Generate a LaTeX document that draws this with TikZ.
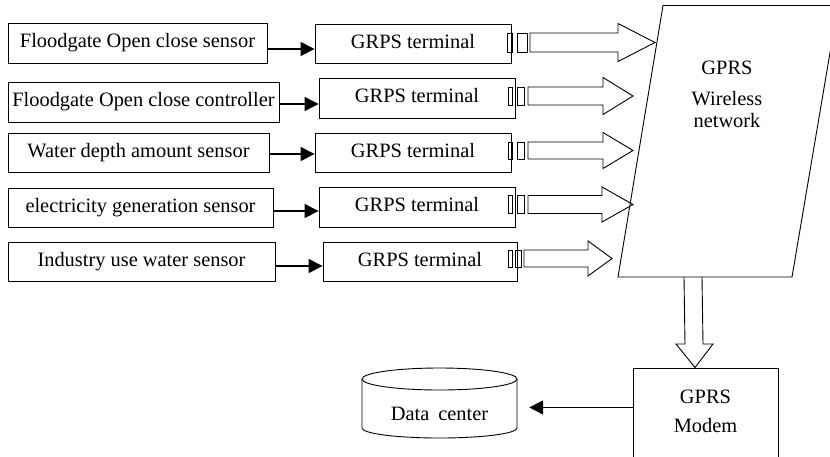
\documentclass[tikz,border=0pt]{standalone}
\usepackage{fontspec}
\setmainfont{Liberation Serif}
\usetikzlibrary{arrows.meta,calc}
\begin{document}
\begin{tikzpicture}[x=1pt,y=-1pt,
  font=\fontsize{20.4}{22}\selectfont,
  box/.style={draw, line width=0.9pt, inner sep=0pt, text height=14pt, text depth=4.5pt},
  conn/.style={-{Triangle[length=14pt,width=14pt]}, line width=1.4pt},
  outl/.style={draw, line width=0.9pt, line join=miter}]
\useasboundingbox (0,0) rectangle (830,456);
% sensors
\node[box, minimum width=259, minimum height=40] (s1) at (137.5,43) {Floodgate Open close sensor};
\node[box, minimum width=271, minimum height=40] (s2) at (143.5,102) {Floodgate Open close controller};
\node[box, minimum width=261, minimum height=39] (s3) at (138.5,152.5) {Water depth amount sensor};
\node[box, minimum width=265, minimum height=39] (s4) at (140.5,207.5) {electricity generation sensor};
\node[box, minimum width=267, minimum height=39] (s5) at (141.5,261.5) {Industry use water sensor};
% terminals
\node[box, minimum width=196, minimum height=39] (t1) at (413,43.5) {GRPS terminal};
\node[box, minimum width=196, minimum height=40] (t2) at (417,98) {GRPS terminal};
\node[box, minimum width=196, minimum height=39] (t3) at (413,152.5) {GRPS terminal};
\node[box, minimum width=196, minimum height=40] (t4) at (417,207) {GRPS terminal};
\node[box, minimum width=194, minimum height=39] (t5) at (420,261.5) {GRPS terminal};
% sensor -> terminal
\draw[conn] ([yshift=-6pt]s1.east) -- ([yshift=-6pt]s1.east -| t1.west);
\draw[conn] ([yshift=-2pt]s2.east) -- ([yshift=-2pt]s2.east -| t2.west);
\draw[conn] ([yshift=-1.5pt]s3.east) -- ([yshift=-1.5pt]s3.east -| t3.west);
\draw[conn] ([yshift=-3.5pt]s4.east) -- ([yshift=-3.5pt]s4.east -| t4.west);
\draw[conn] ([yshift=-4.5pt]s5.east) -- ([yshift=-4.5pt]s5.east -| t5.west);
% block arrows to network
\foreach \yc/\ax/\aw/\bx/\bw/\sx/\ex/\tx/\hh/\hs in {
  42.5/507/512/517/527/530/618/655/19/9.5,
  96/508/512/517/524/528/603/633/18.5/9,
  150.5/508/512/517/524/528/603/633/18/8.5,
  204.5/508/512/517/524/528/602/633/17.5/9,
  258.5/508/512/515/521/524/588/612/17.5/8.5}{
  \draw[outl] (\ax,\yc-\hs) rectangle (\aw,\yc+\hs);
  \draw[outl] (\bx,\yc-\hs) rectangle (\bw,\yc+\hs);
  \draw[outl] (\sx,\yc-\hs) -- (\ex,\yc-\hs) -- (\ex,\yc-\hh) -- (\tx,\yc)
     -- (\ex,\yc+\hh) -- (\ex,\yc+\hs) -- (\sx,\yc+\hs) -- cycle;
}
% wireless network
\coordinate (nTL) at (663,5.5);
\coordinate (nTR) at (838,5.5);
\coordinate (nBR) at (792,277);
\coordinate (nBL) at (618,277);
\draw[outl] (nTL) -- (nTR) -- (nBR) -- (nBL) -- cycle;
\node[align=center, inner sep=0pt] (net) at (727,94.6) {GPRS\\[9pt]Wireless\\network};
% modem
\node[draw, line width=0.9pt, minimum width=145, minimum height=100, anchor=north,
      align=center, inner sep=0pt, text depth=14pt,
      font=\fontsize{20.4}{29}\selectfont] (modem) at (705.5,368) {GPRS\\Modem};
% down block arrow
\draw[outl] (684,277) -- (685,344) -- (676,344) -- (695,367.5) -- (713,344) -- (703,344) -- (702,277);
% data center
\node[inner sep=0pt, minimum width=155, minimum height=48] (dc) at (439.5,414) {Data\hspace{9pt}center};
\draw[outl] (dc.center) ++(0,-35) ellipse [x radius=77.5, y radius=11];
\draw[outl] (362,379) -- (362,428) arc[start angle=180, end angle=360, x radius=77.5, y radius=-10] -- (517,379);
\coordinate (dcin) at ([xshift=12pt]dc.east);
\draw[conn] ([yshift=11pt]modem.west) -- ([yshift=11pt]modem.west -| dcin);
\end{tikzpicture}
\end{document}
